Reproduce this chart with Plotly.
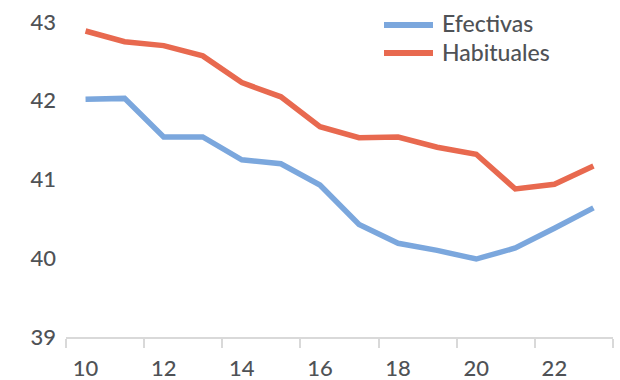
import plotly.graph_objects as go

years = list(range(10, 24))
efectivas = [42.02, 42.03, 41.54, 41.54, 41.25, 41.20, 40.93, 40.43, 40.19, 40.10, 39.99, 40.13, 40.38, 40.64]
habituales = [42.886, 42.75, 42.70, 42.57, 42.23, 42.05, 41.67, 41.53, 41.54, 41.41, 41.32, 40.88, 40.94, 41.17]
x_ticks = [10, 12, 14, 16, 18, 20, 22]
y_ticks = [39, 40, 41, 42, 43]
series_names = ["Efectivas", "Habituales"]
series_colors = ["#7BA7DD", "#E8694F"]

font_color = "#4F5256"
fig = go.Figure()
for name, vals, col in zip(series_names, [efectivas, habituales], series_colors):
    fig.add_trace(go.Scatter(x=years, y=vals, mode="lines", name=name,
                             line=dict(color=col, width=5.5), showlegend=False))

# custom legend (long line samples like the original)
W, H = 547, 315
leg_y_px = [25, 53]
for name, col, ypx in zip(series_names, series_colors, leg_y_px):
    yp = (337 - ypx) / H
    fig.add_shape(type="line", xref="paper", yref="paper",
                  x0=(384 - 66) / W, x1=(433 - 66) / W, y0=yp, y1=yp,
                  line=dict(color=col, width=6))
    fig.add_annotation(xref="paper", yref="paper", x=(440 - 66) / W, y=yp + 1.5 / H,
                       xanchor="left", yanchor="middle", text=name, showarrow=False,
                       font=dict(size=23, color=font_color, weight=500))

fig.update_layout(
    width=620, height=380,
    margin=dict(l=66, r=7, t=22, b=43),
    paper_bgcolor="white", plot_bgcolor="white",
    font=dict(family="Lato", color=font_color, size=22, weight=500),
    showlegend=False,
    xaxis=dict(range=[9.5, 23.5], tickvals=x_ticks, ticktext=[str(v) for v in x_ticks],
               showgrid=False, zeroline=False, showline=True, linecolor="#D9D9D9", linewidth=2,
               ticks="", ticklabelstandoff=11, automargin=False,
               minor=dict(tickvals=[9.5, 11.5, 13.5, 15.5, 17.5, 19.5, 21.5, 23.5],
                          ticks="outside", ticklen=9, tickcolor="#D9D9D9", tickwidth=2, showgrid=False)),
    yaxis=dict(range=[39, 43], tickvals=y_ticks, showgrid=False, zeroline=False, automargin=False,
               showline=False, ticks="", ticklabelstandoff=9),
)
fig.write_html("out.html")
